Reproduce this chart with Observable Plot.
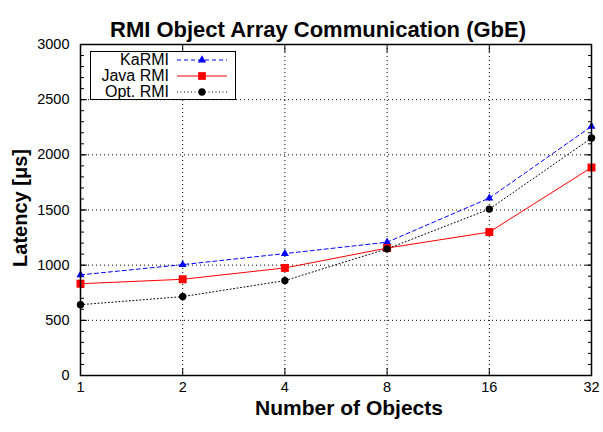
<!DOCTYPE html>
<html><head><meta charset="utf-8">
<script src="https://cdn.jsdelivr.net/npm/d3@7"></script>
<script src="https://cdn.jsdelivr.net/npm/@observablehq/plot@0.6"></script>
<style>
body{margin:0;background:#fff;font-family:"Liberation Sans",Arial,sans-serif}
#wrap{position:relative;width:603px;height:432px}
#legend{position:absolute;left:90px;top:51px;width:144px;height:47px;border:1.5px solid #000;background:#fff;padding:0;box-sizing:content-box}
.row{position:absolute;left:0;height:16px;width:144px}
.row span{position:absolute;right:66px;top:-1px;font-size:16px;line-height:17px;color:#000}
.row svg{position:absolute;left:86px;top:0}
</style></head>
<body><div id="wrap"><div id="legend"></div></div>
<script>
const objects = [1, 2, 4, 8, 16, 32];
const karmi = [912, 1005, 1105, 1208, 1608, 2258];
const javaRmi = [832, 872, 975, 1155, 1300, 1885];
const optRmi = [642, 715, 860, 1148, 1508, 2152];
const seriesNames = ["KaRMI", "Java RMI", "Opt. RMI"];
const seriesValues = [karmi, javaRmi, optRmi];
const colors = ["#0000ff", "#ff0000", "#000000"];
const dashes = ["4,3", null, "1,2.5"];
const symbols = ["triangle", "square", "circle"];
const xTicks = [1, 2, 4, 8, 16, 32];
const yTicks = [0, 500, 1000, 1500, 2000, 2500, 3000];
const yMinor = d3.range(0, 3001, 100);
const title = "RMI Object Array Communication (GbE)";
const xLabel = "Number of Objects";
const yLabel = "Latency [\u03bcs]";

const tables = seriesValues.map((vals, i) => objects.map((x, j) => ({series: seriesNames[i], x, y: vals[j]})));
const symR = [3.0, 4.5, 3.7];

const font = "Liberation Sans, Arial, sans-serif";
const lineMarks = tables.flatMap((t, i) => [
  Plot.line(t, {x: "x", y: "y", stroke: colors[i], strokeWidth: 1, strokeDasharray: dashes[i]}),
  Plot.dot(t, {x: "x", y: "y", fill: colors[i], stroke: "none", symbol: () => symbols[i], r: symR[i]})
]);

const plot = Plot.plot({
  width: 603, height: 432,
  marginLeft: 80, marginRight: 12, marginTop: 44, marginBottom: 57,
  style: {fontFamily: font, fontSize: "14.5px", color: "#000", background: "#fff"},
  x: {type: "log", base: 2, domain: [1, 32]},
  y: {domain: [0, 3000]},
  symbol: {type: "identity"},
  marks: [
    Plot.gridY(yTicks.slice(1, -1), {stroke: "#000", strokeOpacity: 1, strokeDasharray: "1,3"}),
    Plot.gridX(xTicks.slice(1, -1), {stroke: "#000", strokeOpacity: 1, strokeDasharray: "1,3"}),
    Plot.axisY(yTicks, {tickSize: 0, tickPadding: 11, tickFormat: d => String(d), label: null, fontSize: 14.5}),
    Plot.axisY(yMinor, {tickSize: -4, tickFormat: () => "", label: null}),
    Plot.axisY(yTicks, {tickSize: -7, tickFormat: () => "", label: null}),
    Plot.axisY(yMinor, {anchor: "right", tickSize: -4, tickFormat: () => "", label: null}),
    Plot.axisY(yTicks, {anchor: "right", tickSize: -7, tickFormat: () => "", label: null}),
    Plot.axisX(xTicks, {tickSize: 0, tickPadding: 6, tickFormat: d => String(d), label: null, fontSize: 14.5}),
    Plot.axisX(xTicks, {tickSize: -7, tickFormat: () => "", label: null}),
    Plot.axisX(xTicks, {anchor: "top", tickSize: -7, tickFormat: () => "", label: null}),
    ...lineMarks,
    Plot.frame({stroke: "#000", strokeWidth: 1.5}),
    Plot.text([title], {frameAnchor: "top", dy: -23, dx: -18, fontWeight: "bold", fontSize: 22, text: d => d}),
    Plot.text([xLabel], {frameAnchor: "bottom", dy: 39, dx: 13, fontWeight: "bold", fontSize: 21, text: d => d}),
    Plot.text([yLabel], {frameAnchor: "left", dx: -60, dy: -2, rotate: -90, textAnchor: "middle", fontWeight: "bold", fontSize: 20, text: d => d})
  ]
});
document.getElementById("wrap").prepend(plot);

// legend
const legend = d3.select("#legend");
const sym = {triangle: d3.symbolTriangle, square: d3.symbolSquare, circle: d3.symbolCircle};
const symArea = [30, 60, 42];
seriesNames.forEach((name, i) => {
  const row = legend.append("div").attr("class", "row").style("top", (0 + i * 16) + "px");
  row.append("span").text(name);
  const s = row.append("svg").attr("width", 50).attr("height", 16);
  s.append("line").attr("x1", 0).attr("x2", 50).attr("y1", 8).attr("y2", 8)
    .attr("stroke", colors[i]).attr("stroke-width", 1).attr("stroke-dasharray", dashes[i]);
  s.append("path").attr("d", d3.symbol(sym[symbols[i]], symArea[i])())
    .attr("transform", "translate(25,8)").attr("fill", colors[i]);
});
</script>
</body></html>
